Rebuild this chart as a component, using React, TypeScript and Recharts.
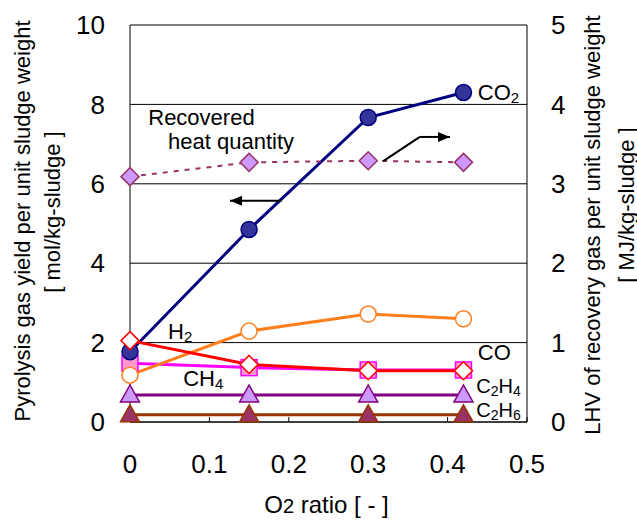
import React from 'react';
import {
  ComposedChart, Line, XAxis, YAxis, CartesianGrid, ReferenceDot, ReferenceLine,
} from 'recharts';

const FONT = '"Liberation Sans", Arial, sans-serif';

// O2 ratio [-]
const o2Ratio = [0, 0.15, 0.3, 0.42];
// gas yields [mol/kg-sludge]
const co2 = [1.77, 4.85, 7.67, 8.3];
const co = [1.18, 2.29, 2.72, 2.6];
const h2 = [2.05, 1.45, 1.29, 1.29];
const ch4 = [1.48, 1.37, 1.31, 1.31];
const c2h4 = [0.68, 0.68, 0.68, 0.68];
const c2h6 = [0.18, 0.18, 0.18, 0.18];
// recovered heat quantity [MJ/kg-sludge]
const heat = [3.09, 3.27, 3.29, 3.27];

const xTicks = [0, 0.1, 0.2, 0.3, 0.4, 0.5];
const leftTicks = [0, 2, 4, 6, 8, 10];
const rightTicks = [0, 1, 2, 3, 4, 5];

const data = o2Ratio.map((x, i) => ({
  x, co2: co2[i], co: co[i], h2: h2[i], ch4: ch4[i], c2h4: c2h4[i], c2h6: c2h6[i], heat: heat[i],
}));

// text annotations, anchored at baseline-left in data units
const labels = [
  { x: 0.438, y: 8.11, main: 'CO', sub: '2', size: 22 },
  { x: 0.438, y: 1.56, main: 'CO', sub: '', size: 22 },
  { x: 0.048, y: 2.09, main: 'H', sub: '2', size: 22 },
  { x: 0.067, y: 0.91, main: 'CH', sub: '4', size: 22 },
  { x: 0.436, y: 0.72, main: 'C', sub: '2', main2: 'H', sub2: '4', size: 20 },
  { x: 0.436, y: 0.12, main: 'C', sub: '2', main2: 'H', sub2: '6', size: 20 },
  { x: 0.023, y: 7.48, main: 'Recovered', sub: '', size: 22 },
  { x: 0.048, y: 6.88, main: 'heat quantity', sub: '', size: 22 },
];

// arrows: polyline points in data units, last point is the tip
const arrows = [
  [{ x: 0.191, y: 5.57 }, { x: 0.126, y: 5.57 }],
  [{ x: 0.319, y: 6.57 }, { x: 0.365, y: 7.18 }, { x: 0.403, y: 7.18 }],
];

const Circle = (fill: string, stroke: string) => (p: any) => (
  <circle key={`c-${p.index}`} cx={p.cx} cy={p.cy} r={8} fill={fill} stroke={stroke} strokeWidth={1.5} />
);
const Diamond = (fill: string, stroke: string, s = 9) => (p: any) => (
  <path key={`d-${p.index}`} d={`M${p.cx},${p.cy - s}L${p.cx + s},${p.cy}L${p.cx},${p.cy + s}L${p.cx - s},${p.cy}Z`}
    fill={fill} stroke={stroke} strokeWidth={1.5} />
);
const Square = (fill: string, stroke: string) => (p: any) => (
  <rect key={`s-${p.index}`} x={p.cx - 8} y={p.cy - 8} width={16} height={16} fill={fill} stroke={stroke} strokeWidth={1.5} />
);
const Triangle = (fill: string, stroke: string) => (p: any) => (
  <path key={`t-${p.index}`} d={`M${p.cx},${p.cy - 10}L${p.cx + 9.5},${p.cy + 7}L${p.cx - 9.5},${p.cy + 7}Z`}
    fill={fill} stroke={stroke} strokeWidth={1.5} />
);

const AnnotText = (l: any) => (p: any) => {
  const subSize = Math.round(l.size * 0.68);
  return (
    <text x={p.cx} y={p.cy} fontFamily={FONT} fontSize={l.size} fill="#000">
      <tspan>{l.main}</tspan>
      {l.sub && <tspan fontSize={subSize} dy={3}>{l.sub}</tspan>}
      {l.main2 && <tspan fontSize={l.size} dy={-3}>{l.main2}</tspan>}
      {l.sub2 && <tspan fontSize={subSize} dy={3}>{l.sub2}</tspan>}
    </text>
  );
};

const ArrowHead = (from: any, to: any) => (p: any) => {
  const dir = to.x > from.x ? 1 : -1;
  return (
    <path d={`M${p.cx},${p.cy}L${p.cx - dir * 12},${p.cy - 5}L${p.cx - dir * 12},${p.cy + 5}Z`} fill="#000" />
  );
};

const AxisTitle = (line1: string, line2: string, x1: number, x2: number, cy1: number, cy2: number) => (props: any) => {
  const vb = props.viewBox;
  const a = vb.x + x1;
  const b = vb.x + x2;
  return (
    <g fontFamily={FONT} fontSize={22} fill="#000">
      <text x={a} y={cy1} transform={`rotate(-90, ${a}, ${cy1})`} textAnchor="middle" dominantBaseline="central">{line1}</text>
      <text x={b} y={cy2} transform={`rotate(-90, ${b}, ${cy2})`} textAnchor="middle" dominantBaseline="central">{line2}</text>
    </g>
  );
};

const XTitle = (props: any) => {
  const vb = props.viewBox;
  const cx = vb.x + vb.width / 2;
  return (
    <text x={cx - 2} y={513} textAnchor="middle" fontFamily={FONT} fontSize={24} fill="#000">
      O<tspan fontSize={20}>2</tspan> ratio [ - ]
    </text>
  );
};

export default function App() {
  const tickStyle = { fontFamily: FONT, fontSize: 26, fill: '#000' };
  return (
    <div style={{ position: 'absolute', left: 0, top: 0, width: 637, height: 520, background: '#fff' }}>
      <ComposedChart width={637} height={520} data={data} margin={{ top: 25, right: 0, bottom: 0, left: 0 }}>
        <CartesianGrid horizontal vertical={false} stroke="#000" strokeWidth={1} />
        <XAxis
          dataKey="x" type="number" domain={[0, 0.5]} ticks={xTicks} height={98}
          stroke="#000" tickSize={-5} tickMargin={38} tick={tickStyle}
          label={<XTitle />}
        />
        <YAxis
          domain={[0, 10]} ticks={leftTicks} width={130} stroke="#000"
          tickLine={false} tickSize={0} tickMargin={25} tick={tickStyle}
          label={AxisTitle('Pyrolysis gas yield per unit sludge weight', '[ mol/kg-sludge ]', 22, 52, 221, 212)}
        />
        <YAxis
          yAxisId="right" orientation="right" domain={[0, 5]} ticks={rightTicks} width={110} stroke="#000"
          tickLine={false} tickSize={0} tickMargin={24} tick={{ ...tickStyle, textAnchor: 'start' }}
          label={AxisTitle('LHV of recovery gas per unit sludge weight', '[ MJ/kg-sludge ]', 65, 99, 225, 205)}
        />

        <Line dataKey="c2h6" stroke="#993300" strokeWidth={3} dot={Triangle('#993366', '#993300')} isAnimationActive={false} />
        <Line dataKey="c2h4" stroke="#800080" strokeWidth={3} dot={Triangle('#CC99FF', '#800080')} isAnimationActive={false} />
        <Line dataKey="ch4" stroke="#FF00FF" strokeWidth={3} dot={Square('#FF99CC', '#FF00FF')} isAnimationActive={false} />
        <Line dataKey="co" stroke="#FF7F1E" strokeWidth={3} dot={Circle('#FFFFFF', '#FF7F1E')} isAnimationActive={false} />
        <Line dataKey="co2" stroke="#000080" strokeWidth={3} dot={Circle('#333399', '#000080')} isAnimationActive={false} />
        <Line dataKey="h2" stroke="#FF0000" strokeWidth={3} dot={Diamond('#FFFFFF', '#FF0000')} isAnimationActive={false} />
        <Line
          yAxisId="right" dataKey="heat" stroke="#993366" strokeWidth={2} strokeDasharray="5 6"
          dot={Diamond('#CC99FF', '#993366')} isAnimationActive={false}
        />

        {arrows.map((pts, i) =>
          pts.slice(1).map((pt, j) => (
            <ReferenceLine
              key={`a-${i}-${j}`}
              segment={[pts[j], pt]}
              stroke="#000" strokeWidth={2}
            />
          ))
        )}
        {arrows.map((pts, i) => {
          const tip = pts[pts.length - 1];
          const prev = pts[pts.length - 2];
          return (
            <ReferenceDot key={`h-${i}`} x={tip.x} y={tip.y} r={0} shape={ArrowHead(prev, tip)} />
          );
        })}
        {labels.map((l, i) => (
          <ReferenceDot key={`l-${i}`} x={l.x} y={l.y} r={0} shape={AnnotText(l)} />
        ))}
      </ComposedChart>
    </div>
  );
}
